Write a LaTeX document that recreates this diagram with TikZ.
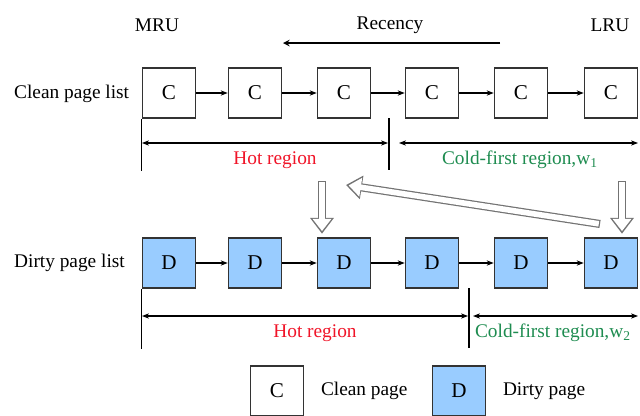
\documentclass[tikz,border=0pt]{standalone}
\usepackage{fontspec}
\setmainfont{Liberation Serif}
\usetikzlibrary{arrows, arrows.meta, positioning}

\definecolor{dirtyblue}{RGB}{153,204,255}
\definecolor{hotred}{RGB}{240,20,40}
\definecolor{coldgreen}{RGB}{30,140,80}

\begin{document}
\begin{tikzpicture}[x=0.02cm, y=-0.02cm, >=stealth, font=\fontsize{11}{13}\selectfont,
	page/.style={draw=black!80, line width=0.9pt, minimum width=1.06cm, minimum height=1.0cm, inner sep=0pt, font=\fontsize{12}{14}\selectfont},
	clean/.style={page, fill=white},
	dirty/.style={page, fill=dirtyblue},
	link/.style={-{Stealth[length=4pt,width=3pt]}, line width=0.6pt},
	span/.style={{Stealth[length=4pt,width=3pt]}-{Stealth[length=4pt,width=3pt]}, line width=0.6pt},
	hollowout/.style={draw=black!55, line width=4.6pt, -{Triangle[length=9pt 0, width=13pt 0]}},
	hollowin/.style={draw=white, line width=3.2pt, -{Triangle[length=7pt 0, width=10.4pt 0]}, shorten >=1.5pt, shorten <=0.7pt}]
	\useasboundingbox (0,0) rectangle (640,416);

	%header
	\node (mru) at (157,25) {MRU};
	\node (recency) at (390,25) {Recency};
	\node (lru) at (610,25) {LRU};
	\coordinate (recstart) at (500,43);
	\coordinate (recend) at (283,43);
	\draw[->, line width=0.7pt] (recstart) -- (recend);

	%page lists
	\node[anchor=west] (cleanlist) at (8,94) {Clean page list};
	\node[anchor=west] (dirtylist) at (8,263) {Dirty page list};
	\foreach \x [count=\i] in {169,255,344,432,521,611} {
		\node[clean] (c\i) at (\x,93) {C};
		\node[dirty] (d\i) at (\x,263) {D};
	}
	\foreach \i [evaluate=\i as \j using int(\i+1)] in {1,...,5} {
		\draw[link] (c\i) -- (c\j);
		\draw[link] (d\i) -- (d\j);
	}

	%clean regions
	\draw[line width=0.6pt] (c1.south west) -- ++(0,52);
	\draw[line width=0.6pt] (389,118) -- (389,170);
	\draw[span] (142,143) -- (388,143);
	\draw[span] (399,143) -- (638,143);
	\node[text=hotred] (cleanhot) at (275,160) {Hot region};
	\node[text=coldgreen] (cleancold) at (520,160) {Cold-first region,w\textsubscript{1}};

	%dirty regions
	\draw[line width=0.6pt] (d1.south west) -- ++(0,60);
	\draw[line width=0.6pt] (469,288) -- (469,348);
	\draw[span] (142,316) -- (468,316);
	\draw[span] (473,316) -- (638,316);
	\node[text=hotred] (dirtyhot) at (315,333) {Hot region};
	\node[text=coldgreen] (dirtycold) at (553,333) {Cold-first region,w\textsubscript{2}};

	%moves between lists (outline first, then white core)
	\coordinate (hotdrop) at (322,181);
	\coordinate (colddrop) at (622,181);
	\coordinate (promote) at (600,224);
	\coordinate (promoteend) at (346,185);
	\foreach \style in {hollowout, hollowin} {
		\draw[\style] (hotdrop) -- ([yshift=2pt]hotdrop |- d3.north);
		\draw[\style] (colddrop) -- ([yshift=2pt]colddrop |- d6.north);
		\draw[\style] (promote) -- (promoteend);
	}

	%legend
	\node[clean] (legclean) at (277,391) {C};
	\node[right=6pt of legclean] (legcleantext) {Clean page};
	\node[dirty] (legdirty) at (459,391) {D};
	\node[right=6pt of legdirty] (legdirtytext) {Dirty page};
\end{tikzpicture}
\end{document}
